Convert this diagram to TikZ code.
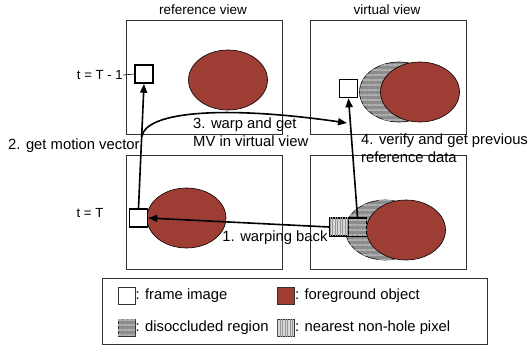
\documentclass[tikz,border=0pt]{standalone}
\usepackage{fontspec}
\setmainfont{Liberation Sans}
\usetikzlibrary{arrows.meta,patterns.meta,shapes.geometric,calc}
\definecolor{fgred}{RGB}{158,61,52}
\definecolor{boxline}{RGB}{50,50,50}
\definecolor{disdark}{RGB}{140,140,140}
\definecolor{dislight}{RGB}{175,175,175}
\definecolor{hatchlight}{RGB}{215,215,215}
\definecolor{hatchdark}{RGB}{150,150,150}
\begin{document}
\begin{tikzpicture}[x=1pt,y=-1pt,
  lbl/.style={font=\fontsize{14.8}{18}\selectfont, inner sep=0pt},
  tlbl/.style={font=\fontsize{13.2}{16}\selectfont, inner sep=0pt},
  ttl/.style={font=\fontsize{13.5}{16}\selectfont, inner sep=0pt},
  viewbox/.style={draw=boxline, line width=0.9pt, minimum width=156pt, minimum height=114pt, anchor=north west, inner sep=0pt},
  framesq/.style={draw=black, line width=1.6pt, fill=white, minimum size=18pt, inner sep=0pt},
  fgobj/.style={draw=black, line width=0.6pt, fill=fgred, ellipse, minimum width=79pt, minimum height=60pt, inner sep=0pt},
  disobj/.style={draw=black, line width=0.6pt, fill=disdark, ellipse, minimum width=79pt, minimum height=60pt, inner sep=0pt,
     postaction={pattern={Lines[angle=0,distance=5pt,line width=2.5pt]}, pattern color=dislight}},
  dissq/.style={fill=disdark, postaction={pattern={Lines[angle=0,distance=5pt,line width=2.5pt]}, pattern color=dislight}},
  hatchsq/.style={fill=hatchlight, postaction={pattern={Lines[angle=90,distance=2.5pt,line width=0.6pt]}, pattern color=hatchdark}},
  legsq/.style={draw=boxline, line width=0.6pt, minimum size=17pt, inner sep=0pt},
  arr/.style={line width=1.6pt, -{Triangle[length=9pt,width=7pt]}}
]
\useasboundingbox (0,0) rectangle (528,350);

% titles
\node[ttl] (t_ref) at (203,10) {reference view};
\node[ttl] (t_vir) at (387,10) {virtual view};

% view boxes
\node[viewbox] (reftop) at (126,20) {};
\node[viewbox] (virtop) at (310,20) {};
\node[viewbox] (refbot) at (126,155) {};
\node[viewbox] (virbot) at (310,155) {};

% objects
\node[fgobj] (obj1) at (228,80) {};
\node[disobj] (dis2) at (399,92) {};
\node[fgobj] (obj2) at (420,92) {};
\node[fgobj] (obj3) at (186.5,218) {};
\node[disobj] (dis4) at (385,230) {};
\node[fgobj] (obj4) at (406,230) {};

% frame squares
\node[framesq] (sqTL) at (144,74) {};
\node[framesq] (sqTR) at (348.5,88.5) {};
\node[framesq] (sqBL) at (138.5,218) {};
\node[framesq, hatchsq] (sqH) at (339,227) {};
\node[framesq, dissq] (sqD) at (357.5,227) {};

% time labels
\node[tlbl, anchor=east] (tT1) at (123,75) {t = T - 1};
\node[tlbl] (tT) at (90,213) {t = T};
\draw[line width=0.6pt] (tT1.east) -- (sqTL.west);

% arrows
\draw[arr] (sqH.west) -- (sqBL.east);
\draw[arr] (sqBL.north) -- (sqTL.south);
\coordinate (c3s) at ($(sqBL.north)!0.57!(sqTL.south)$);
\coordinate (c3e) at (347,123);
\draw[arr] (c3s) .. controls (145,110) and (230,106) .. (c3e);
\draw[arr] (sqD.north) -- (sqTR.south);

% arrow labels
\node[lbl] (l1) at (275,238) {1. warping back};
\node[lbl, anchor=west] (l2) at (8,146) {2. get motion vector};
\node[lbl, anchor=north west, align=left] (l3) at (193,118) {3. warp and get\\MV in virtual view};
\node[lbl, anchor=north west, align=left] (l4) at (361,134) {4. verify and get previous\\reference data};

% legend
\node[draw=boxline, line width=0.9pt, minimum width=385pt, minimum height=66pt, anchor=north west, inner sep=0pt] (legend) at (102,278) {};
\node[legsq, fill=white] (lg1) at (126.5,296) {};
\node[lbl, anchor=west] (lt1) at (lg1.east) {: frame image};
\node[legsq, fill=fgred] (lg2) at (286,296) {};
\node[lbl, anchor=west] (lt2) at (lg2.east) {: foreground object};
\node[legsq, dissq] (lg3) at (126.5,328) {};
\node[lbl, anchor=west] (lt3) at (lg3.east) {: disoccluded region};
\node[legsq, hatchsq] (lg4) at (286,328) {};
\node[lbl, anchor=west] (lt4) at (lg4.east) {: nearest non-hole pixel};
\end{tikzpicture}
\end{document}
